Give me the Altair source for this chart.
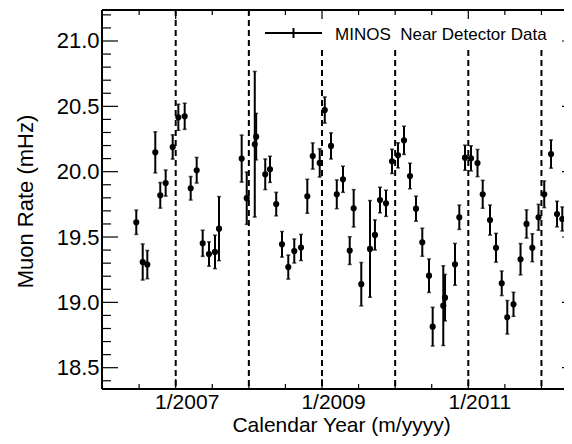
import altair as alt
import pandas as pd

# ---- data ----
years = [2006.461, 2006.549, 2006.612, 2006.721, 2006.789, 2006.863, 2006.959,
         2007.036, 2007.123, 2007.205, 2007.287, 2007.369, 2007.455, 2007.537,
         2007.592, 2007.902, 2007.971, 2008.081, 2008.100, 2008.224, 2008.289,
         2008.374, 2008.453, 2008.539, 2008.621, 2008.713, 2008.799, 2008.873,
         2008.969, 2009.038, 2009.123, 2009.202, 2009.287, 2009.379, 2009.433,
         2009.537, 2009.656, 2009.724, 2009.793, 2009.875, 2009.957, 2010.039,
         2010.121, 2010.203, 2010.285, 2010.371, 2010.463, 2010.513, 2010.658,
         2010.682, 2010.818, 2010.877, 2010.955, 2011.037, 2011.126, 2011.197,
         2011.297, 2011.379, 2011.457, 2011.533, 2011.618, 2011.714, 2011.796,
         2011.875, 2011.960, 2012.038, 2012.131, 2012.213, 2012.285]
rates = [19.613, 19.309, 19.289, 20.148, 19.819, 19.913, 20.189,
         20.416, 20.424, 19.873, 20.011, 19.452, 19.370, 19.386,
         19.564, 20.100, 19.797, 20.210, 20.268, 19.980, 20.018,
         19.752, 19.444, 19.270, 19.393, 19.420, 19.812, 20.120,
         20.067, 20.472, 20.197, 19.827, 19.942, 19.396, 19.720,
         19.139, 19.409, 19.516, 19.783, 19.758, 20.079, 20.125,
         20.240, 19.967, 19.717, 19.460, 19.204, 18.814, 18.975,
         19.036, 19.291, 19.651, 20.107, 20.102, 20.066, 19.827,
         19.630, 19.418, 19.146, 18.886, 18.985, 19.330, 19.600,
         19.418, 19.651, 19.827, 20.135, 19.676, 19.638]
errors = [0.093, 0.138, 0.108, 0.157, 0.098, 0.100, 0.093,
          0.100, 0.100, 0.090, 0.098, 0.100, 0.093, 0.128,
          0.245, 0.180, 0.200, 0.557, 0.178, 0.117, 0.100,
          0.090, 0.098, 0.092, 0.092, 0.100, 0.130, 0.100,
          0.108, 0.100, 0.100, 0.110, 0.100, 0.106, 0.143,
          0.166, 0.370, 0.115, 0.098, 0.100, 0.093, 0.096,
          0.108, 0.098, 0.096, 0.107, 0.128, 0.148, 0.305,
          0.178, 0.160, 0.093, 0.096, 0.096, 0.104, 0.107,
          0.115, 0.110, 0.094, 0.128, 0.092, 0.120, 0.108,
          0.107, 0.099, 0.102, 0.108, 0.098, 0.092]

year_boundaries = [2007, 2008, 2009, 2010, 2011, 2012]
x_major = [2007, 2009, 2011]
x_minor = [2006.5, 2007.5, 2008, 2008.5, 2009.5, 2010, 2010.5, 2011.5, 2012]
y_major = [18.5, 19.0, 19.5, 20.0, 20.5, 21.0]
y_minor = [18.4, 18.6, 18.7, 18.8, 18.9, 19.1, 19.2, 19.3, 19.4, 19.6, 19.7,
           19.8, 19.9, 20.1, 20.2, 20.3, 20.4, 20.6, 20.7, 20.8, 20.9, 21.1, 21.2]
legend_label = "MINOS\u00a0 Near Detector Data"

# ---- tables ----
df = pd.DataFrame({"year": years, "rate": rates, "err": errors})
df["lo"] = df["rate"] - df["err"]
df["hi"] = df["rate"] + df["err"]

W, H = 462, 379
FONT = "Liberation Sans"

x_scale = alt.Scale(domain=[2005.9925, 2012.3083], nice=False, zero=False)
y_scale = alt.Scale(domain=[18.337, 21.2372], nice=False, zero=False)

x_axis = alt.Axis(values=x_major, labelExpr="'1/' + datum.value", ticks=False,
                  tickSize=0, domain=False, grid=False, labelFontSize=21,
                  labelOffset=11, labelPadding=19, labelBaseline="alphabetic",
                  labelFlush=False, labelOverlap=False,
                  title="Calendar Year (m/yyyy)", titleFontSize=21,
                  titleX=239, titleY=42.5, titleBaseline="alphabetic",
                  titleAlign="center")
y_axis = alt.Axis(values=y_major, format=".1f", ticks=False, tickSize=0,
                  domain=False, grid=False, labelFontSize=22, labelPadding=3,
                  labelFlush=False, labelOverlap=False,
                  title="Muon Rate (mHz)", titleFontSize=22, titleAngle=270,
                  titleX=-70, titleY=191, titleBaseline="alphabetic",
                  titleAlign="center")

X = alt.X("year:Q", scale=x_scale, axis=x_axis)
Y = alt.Y("rate:Q", scale=y_scale, axis=y_axis)

one = pd.DataFrame({"k": [0]})

dashed = alt.Chart(pd.DataFrame({"year": year_boundaries})).mark_rule(
    color="black", strokeWidth=2, strokeDash=[6, 4]).encode(x=X)

legend_box = alt.Chart(one).mark_rect(color="white").encode(
    x=alt.value(156), x2=alt.value(454), y=alt.value(1), y2=alt.value(37))

bars = alt.Chart(df).mark_rule(color="black", strokeWidth=2).encode(
    x=X, y=alt.Y("lo:Q", scale=y_scale, axis=y_axis, title="Muon Rate (mHz)"),
    y2="hi:Q")
caps_lo = alt.Chart(df).mark_tick(color="black", orient="horizontal", size=4,
                                  thickness=1.5).encode(
    x=X, y=alt.Y("lo:Q", scale=y_scale, axis=y_axis, title="Muon Rate (mHz)"))
caps_hi = alt.Chart(df).mark_tick(color="black", orient="horizontal", size=4,
                                  thickness=1.5).encode(
    x=X, y=alt.Y("hi:Q", scale=y_scale, axis=y_axis, title="Muon Rate (mHz)"))
points = alt.Chart(df).mark_circle(color="black", size=38, opacity=1).encode(
    x=X, y=Y)

leg_line = alt.Chart(one).mark_rule(color="black", strokeWidth=2).encode(
    x=alt.value(163), x2=alt.value(220), y=alt.value(23))
leg_tick = alt.Chart(one).mark_rule(color="black", strokeWidth=2).encode(
    x=alt.value(191.5), y=alt.value(18), y2=alt.value(28))
leg_text = alt.Chart(one).mark_text(text=legend_label, align="left",
                                    baseline="alphabetic", font=FONT,
                                    fontSize=17, color="black").encode(
    x=alt.value(233), y=alt.value(30))

frame_left = alt.Chart(one).mark_rule(color="black", strokeWidth=2).encode(
    x=alt.value(0), y=alt.value(0), y2=alt.value(H))
frame_top = alt.Chart(one).mark_rule(color="black", strokeWidth=2).encode(
    x=alt.value(0), x2=alt.value(W), y=alt.value(0))
frame_bottom = alt.Chart(one).mark_rule(color="black", strokeWidth=2).encode(
    x=alt.value(0), x2=alt.value(W), y=alt.value(H))

xmaj = pd.DataFrame({"year": x_major})
xmin = pd.DataFrame({"year": x_minor})
ymaj = pd.DataFrame({"rate": y_major})
ymin = pd.DataFrame({"rate": y_minor})

tk = dict(color="black", strokeWidth=1.2)
ticks = [
    alt.Chart(xmaj).mark_rule(**tk).encode(x=X, y=alt.value(H), y2=alt.value(H - 10)),
    alt.Chart(xmaj).mark_rule(**tk).encode(x=X, y=alt.value(0), y2=alt.value(9)),
    alt.Chart(xmin).mark_rule(**tk).encode(x=X, y=alt.value(H), y2=alt.value(H - 5)),
    alt.Chart(xmin).mark_rule(**tk).encode(x=X, y=alt.value(0), y2=alt.value(5)),
    alt.Chart(ymaj).mark_rule(**tk).encode(y=Y, x=alt.value(0), x2=alt.value(16)),
    alt.Chart(ymin).mark_rule(**tk).encode(y=Y, x=alt.value(0), x2=alt.value(9)),
    alt.Chart(ymaj).mark_rule(**tk).encode(y=Y, x=alt.value(W - 2), x2=alt.value(W)),
]

chart = alt.layer(
    dashed, legend_box, bars, caps_lo, caps_hi, points,
    leg_line, leg_tick, leg_text, frame_left, frame_top, frame_bottom, *ticks
).properties(
    width=W, height=H,
    padding={"left": 94, "top": 2, "right": 0, "bottom": 47},
    autosize=alt.AutoSizeParams(type="none"),
    background="white",
).configure_view(stroke=None).configure_axis(
    labelFont=FONT, titleFont=FONT, labelColor="black", titleColor="black",
    titleFontWeight="normal"
)

chart.save("out.html", embed_options={"renderer": "svg", "actions": False})
